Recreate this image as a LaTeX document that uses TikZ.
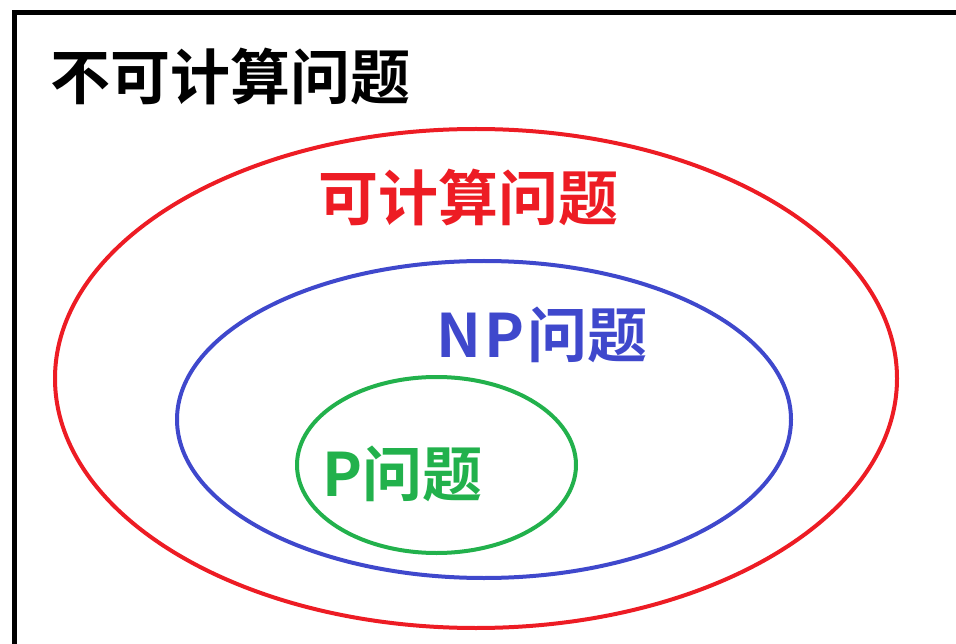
\documentclass[tikz,border=0pt]{standalone}
\usepackage{fontspec}
\newfontfamily\cjk{Noto Sans CJK SC Bold}
\definecolor{pred}{HTML}{ED1C24}
\definecolor{pblue}{HTML}{3F48CC}
\definecolor{pgreen}{HTML}{22B14C}
\begin{document}
\begin{tikzpicture}[x=1pt,y=-1pt,
  lbl/.style={anchor=base west,inner sep=0pt,font=\cjk\fontsize{60}{60}\selectfont},
  ring/.style={line width=4pt}]
\useasboundingbox (0,0) rectangle (956,644);
\draw[line width=5pt] (14.5,650) -- (14.5,12.5) -- (960,12.5);
\node[lbl,text=black] (t0) at (50,100) {不可计算问题};
\draw[ring,pred] (476,378.5) ellipse [x radius=421,y radius=249.5];
\node[lbl,text=pred] (t1) at (318,221) {可计算问题};
\draw[ring,pblue] (484,419.5) ellipse [x radius=307,y radius=158.5];
\node[lbl,text=pblue] (t2) at (436,357) {N\kern3pt P\kern3pt 问题};
\draw[ring,pgreen] (436.5,465) ellipse [x radius=139.5,y radius=88];
\node[lbl,text=pgreen] (t3) at (322,496) {P问题};
\end{tikzpicture}
\end{document}
